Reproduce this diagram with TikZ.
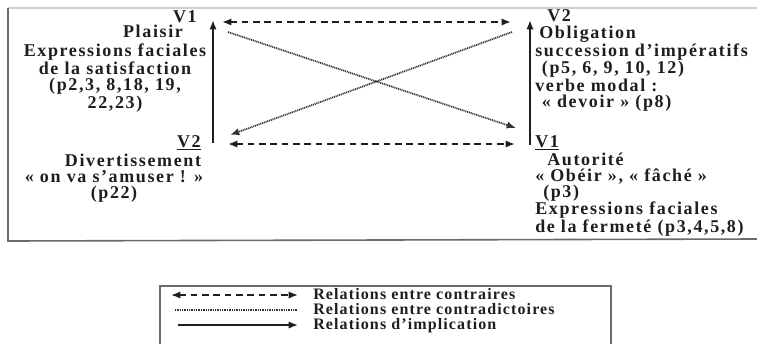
\documentclass[tikz,border=0pt]{standalone}
\usepackage{fontspec}
\setmainfont{Liberation Serif}
\newfontfamily\diagfont{Liberation Serif}[LetterSpace=9]
\newfontfamily\legendfont{Liberation Serif}[LetterSpace=7]
\usetikzlibrary{arrows.meta,backgrounds}
\definecolor{ink}{HTML}{1E1E1E}
\definecolor{framegray}{HTML}{6A6A6A}
\definecolor{framelight}{HTML}{D0D0D0}
\definecolor{dotgray}{HTML}{333333}
\newcommand\diagtext{\diagfont\bfseries\fontsize{13.5}{12}\selectfont}
\newcommand\legendtext{\legendfont\bfseries\fontsize{12}{10}\selectfont}
\tikzset{
  txt/.style={
    font=\diagtext,
    text=ink,
    inner sep=0pt
  },
  txtblock/.style={txt,align=center},
  txtleft/.style={txt,align=left,anchor=west},
  legendtxt/.style={
    font=\legendtext,
    text=ink,
    inner sep=0pt,
    anchor=base west
  },
  contraire/.style={
    {Latex[length=7pt,width=5.5pt]}-{Latex[length=7pt,width=5.5pt]},
    draw=ink,
    line width=1.5pt,
    dash pattern=on 5pt off 3.5pt
  },
  contradiction/.style={
    -{Latex[length=7pt,width=5.5pt]},
    draw=dotgray,
    line width=1.3pt,
    dash pattern=on 0.8pt off 0.6pt
  },
  implication/.style={
    -{Latex[length=7pt,width=5.5pt]},
    draw=ink,
    line width=1.5pt
  },
  legendline/.style={
    draw=dotgray,
    line width=0.9pt,
    dash pattern=on 0.7pt off 0.6pt
  }
}

\begin{document}
\begin{tikzpicture}[x=0.75pt,y=-0.75pt]
  \useasboundingbox (0,0) rectangle (757,344);

  % Outer frame of the square.
  \draw[framelight,line width=1.5pt] (8,8) -- (757,8);
  \draw[framegray,line width=1.2pt] (8,8) -- (8,241) -- (757,239);

  % Upper left corner: V1 / Plaisir.
  \node[txt,anchor=east] (v1left) at (197,17) {V1};
  \node[txt] (plaisir) at (153,31.5) {Plaisir};
  \node[txtblock] (plaisirtxt) at (115,78)
    {Expressions faciales\\de la satisfaction\\(p2,3, 8,18, 19,\\22,23)};

  % Lower left corner: V2 / Divertissement.
  \node[txt,anchor=east] (v2left) at (201,143) {\underline{V2}};
  \node[txt] (divert) at (133,160) {Divertissement};
  \node[txtblock] (diverttxt) at (114,186.5)
    {« on va s’amuser ! »\\(p22)};

  % Upper right corner: V2 / Obligation.
  \node[txt,anchor=west] (v2right) at (547,16) {V2};
  \node[txtleft] (obligation) at (535,68.5)
    {\hspace{3pt}Obligation\\succession d’impératifs\\\hspace{5pt}(p5, 6, 9, 10, 12)\\verbe modal :\\\hspace{5pt}« devoir » (p8)};

  % Lower right corner: V1 / Autorité.
  \node[txt,anchor=west] (v1right) at (535,143) {\underline{V1}};
  \node[txtleft] (autorite) at (535,194.5)
    {\hspace{9pt}Autorité\\« Obéir », « fâché »\\\hspace{6pt}(p3)\\Expressions faciales\\de la fermeté (p3,4,5,8)};

  % Corner points of the square.
  \coordinate (plaisirtip) at (213,20);
  \coordinate (plaisirfoot) at (213,143);
  \coordinate (obligtip) at (530,20);
  \coordinate (obligfoot) at (530,145);
  \coordinate (topw) at (222,22);
  \coordinate (tope) at (511,22);
  \coordinate (botw) at (228,144);
  \coordinate (bote) at (515,144);
  \coordinate (diagnw) at (228,32);
  \coordinate (diagse) at (516,128);
  \coordinate (diagne) at (512,32);
  \coordinate (diagsw) at (230,135);

  \draw[implication] (plaisirfoot) -- (plaisirtip);
  \draw[implication] (obligfoot) -- (obligtip);
  \draw[contraire] (topw) -- (tope);
  \draw[contraire] (botw) -- (bote);
  \draw[contradiction] (diagnw) -- (diagse);
  \draw[contradiction] (diagne) -- (diagsw);

  % Legend.
  \draw[framegray,line width=1.0pt] (160,344) -- (160,286) -- (611,286) -- (611,344);
  \node[legendtxt] (lgcontraire) at (313,299.5) {Relations entre contraires};
  \node[legendtxt] (lgcontradict) at (313,314) {Relations entre contradictoires};
  \node[legendtxt] (lgimplic) at (313,329.5) {Relations d’implication};
  \coordinate (lgcontrairew) at (171,295);
  \coordinate (lgcontrairee) at (298,295);
  \coordinate (lgcontradictw) at (175,310);
  \coordinate (lgcontradicte) at (298,310);
  \coordinate (lgimplicw) at (178,325);
  \coordinate (lgimplice) at (298,325);
  \draw[contraire,line width=1.3pt] (lgcontrairew) -- (lgcontrairee);
  \draw[legendline] (lgcontradictw) -- (lgcontradicte);
  \draw[implication,line width=1.3pt] (lgimplicw) -- (lgimplice);

\end{tikzpicture}
\end{document}
